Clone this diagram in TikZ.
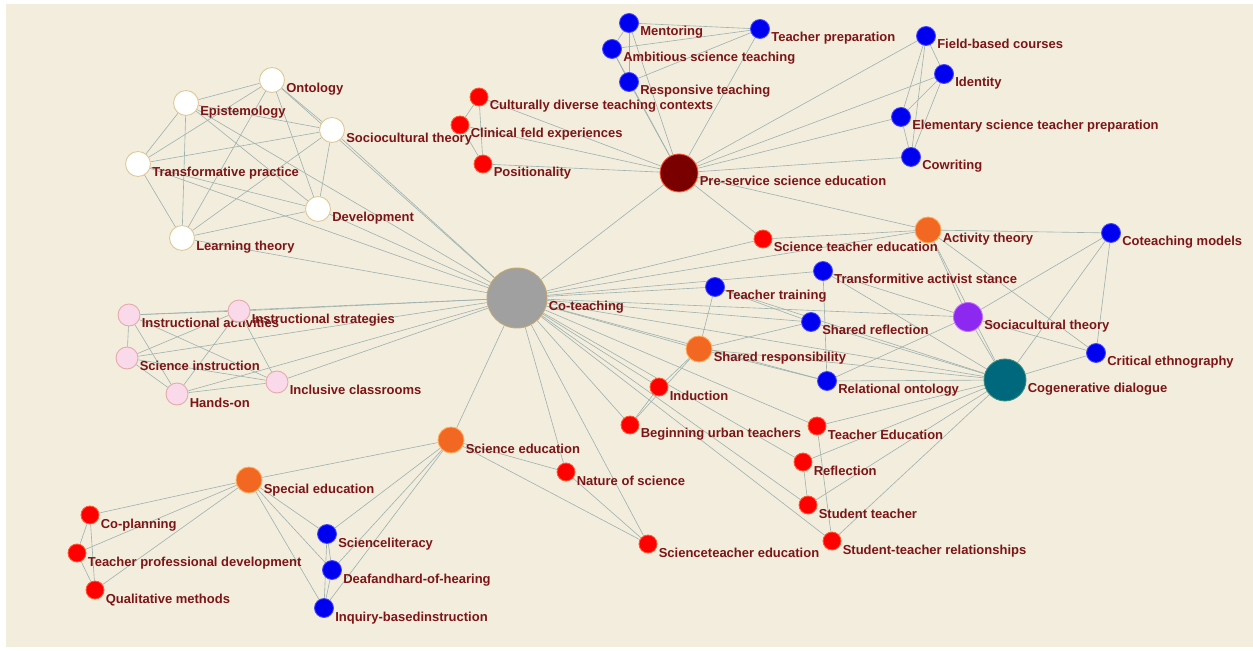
\documentclass[tikz,border=0pt]{standalone}
\usepackage{fontspec}
\setmainfont{Liberation Sans}
\usetikzlibrary{calc}

\pgfdeclarelayer{back}
\pgfdeclarelayer{edges}
\pgfdeclarelayer{labels}
\pgfsetlayers{back,edges,labels,main}

\definecolor{paper}{RGB}{243,237,221}
\definecolor{edgec}{RGB}{158,178,175}
\definecolor{txt}{RGB}{124,22,22}
\definecolor{wrim}{RGB}{222,200,150}
\definecolor{pinkf}{RGB}{250,218,234}
\definecolor{pinkr}{RGB}{226,170,170}
\definecolor{redf}{RGB}{255,0,0}
\definecolor{redr}{RGB}{255,90,50}
\definecolor{bluef}{RGB}{0,0,240}
\definecolor{bluer}{RGB}{70,70,255}
\definecolor{orf}{RGB}{242,104,34}
\definecolor{orr}{RGB}{255,170,90}
\definecolor{greyf}{RGB}{160,160,160}
\definecolor{greyr}{RGB}{196,168,112}
\definecolor{maroonf}{RGB}{122,0,0}
\definecolor{tealf}{RGB}{0,104,124}
\definecolor{tealr}{RGB}{60,140,128}
\definecolor{purplef}{RGB}{140,40,240}
\definecolor{purpler}{RGB}{200,110,255}

\begin{document}
\begin{tikzpicture}[
x=0.02cm, y=-0.02cm,
vtx/.style={circle, inner sep=0pt, line width=.5pt},
wnode/.style={vtx, fill=white, draw=wrim, minimum size=.5cm},
pnode/.style={vtx, fill=pinkf, draw=pinkr, minimum size=.44cm},
rnode/.style={vtx, fill=redf, draw=redr, minimum size=.36cm},
bnode/.style={vtx, fill=bluef, draw=bluer, minimum size=.38cm},
onode/.style={vtx, fill=orf, draw=orr, minimum size=.52cm},
lbl/.style={font=\bfseries\fontsize{7.4}{8}\selectfont, text=txt, inner sep=0pt, anchor=base west},
link/.style={draw=edgec, line width=.35pt}
]

%% Paper
\useasboundingbox (0,0) rectangle (1253,651);
\begin{pgfonlayer}{back}
\fill[white] (0,0) rectangle (1253,651);
\fill[paper] (6,4) rectangle (1253,647);
\end{pgfonlayer}

%% Hubs
\node[vtx, fill=greyf, draw=greyr, minimum size=1.2cm] (co) at (517,298) {};
\node[vtx, fill=maroonf, draw=redr, minimum size=.76cm] (ps) at (679,173) {};
\node[vtx, fill=tealf, draw=tealr, minimum size=.84cm] (cg) at (1005,380) {};
\node[vtx, fill=purplef, draw=purpler, minimum size=.58cm] (soc) at (968,317) {};
\begin{pgfonlayer}{labels}
\node[lbl] (co-l) at ([shift={(1,13)}]co.east) {Co-teaching};
\node[lbl] (ps-l) at ([shift={(1,13)}]ps.east) {Pre-service science education};
\node[lbl] (cg-l) at ([shift={(1,13)}]cg.east) {Cogenerative dialogue};
\node[lbl] (soc-l) at ([shift={(1,13)}]soc.east) {Sociacultural theory};
\end{pgfonlayer}

% % White
\foreach \n/\x/\y/\t in {ont/272/80/Ontology, epi/186/103/Epistemology,
  scth/332/130/Sociocultural theory, trp/138/164/Transformative practice,
  dev/318/209/Development, lth/182/238/Learning theory}{
\node[wnode] (\n) at (\x,\y) {};
\begin{pgfonlayer}{labels}
\node[lbl] (\n-l) at ([shift={(1,13)}]\n.east) {\t};
\end{pgfonlayer}
}

% % Pink
\foreach \n/\x/\y/\t in {iact/129/315/Instructional activities, istr/239/311/Instructional strategies,
  sins/127/358/Science instruction, hon/177/394/Hands-on, icl/277/382/Inclusive classrooms}{
\node[pnode] (\n) at (\x,\y) {};
\begin{pgfonlayer}{labels}
\node[lbl] (\n-l) at ([shift={(1,13)}]\n.east) {\t};
\end{pgfonlayer}
}

% % Orange
\foreach \n/\x/\y/\t in {at/928/230/Activity theory, shr/699/349/Shared responsibility,
  sced/451/440/Science education, sped/249/480/Special education}{
\node[onode] (\n) at (\x,\y) {};
\begin{pgfonlayer}{labels}
\node[lbl] (\n-l) at ([shift={(1,13)}]\n.east) {\t};
\end{pgfonlayer}
}

% % Red
\foreach \n/\x/\y/\t in {cdt/479/97/Culturally diverse teaching contexts, cfe/460/125/Clinical feld experiences,
  pos/483/164/Positionality, ste/763/239/Science teacher education, ind/659/387/Induction,
  but/630/425/Beginning urban teachers, nos/566/472/Nature of science, sted/648/544/Scienceteacher education,
  ted/817/426/Teacher Education, refl/803/462/Reflection, stt/808/505/Student teacher,
  str/832/541/Student-teacher relationships, cpl/90/515/Co-planning,
  tpd/77/553/Teacher professional development, qm/95/590/Qualitative methods}{
\node[rnode] (\n) at (\x,\y) {};
\begin{pgfonlayer}{labels}
\node[lbl] (\n-l) at ([shift={(1,13)}]\n.east) {\t};
\end{pgfonlayer}
}

% % Blue
\foreach \n/\x/\y/\t in {men/629/23/Mentoring, tpr/760/29/Teacher preparation,
  ast/612/49/Ambitious science teaching, rte/629/82/Responsive teaching,
  fbc/926/36/Field-based courses, ide/944/74/Identity,
  estp/901/117/Elementary science teacher preparation, cow/911/157/Cowriting,
  ttr/715/287/Teacher training, tas/823/271/Transformitive activist stance,
  shref/811/322/Shared reflection, rel/827/381/Relational ontology,
  ctm/1111/233/Coteaching models, cet/1096/353/Critical ethnography,
  slit/327/534/Scienceliteracy, dhh/332/570/Deafandhard-of-hearing, ibi/324/608/Inquiry-basedinstruction}{
\node[bnode] (\n) at (\x,\y) {};
\begin{pgfonlayer}{labels}
\node[lbl] (\n-l) at ([shift={(1,13)}]\n.east) {\t};
\end{pgfonlayer}
}

%% Links
\begin{pgfonlayer}{edges}
\foreach \a/\b in {ont/epi, ont/scth, ont/trp, ont/dev, ont/lth, epi/scth, epi/trp, epi/dev, epi/lth,
  scth/trp, scth/dev, scth/lth, trp/dev, trp/lth, dev/lth,
  co/ont, co/epi, co/scth, co/trp, co/dev, co/lth,
  iact/istr, iact/sins, iact/hon, iact/icl, istr/sins, istr/hon, istr/icl, sins/hon, sins/icl, hon/icl,
  co/iact, co/istr, co/sins, co/hon, co/icl,
  co/ps, co/ste, co/at, co/tas, co/ttr, co/shref, co/soc, co/cg, co/rel, co/shr, co/ind, co/but,
  co/ted, co/refl, co/stt, co/str, co/nos, co/sted, co/sced,
  ps/cdt, ps/cfe, ps/pos, ps/men, ps/tpr, ps/ast, ps/rte, ps/fbc, ps/ide, ps/estp, ps/cow, ps/ste, ps/at,
  cdt/cfe, cdt/pos, cfe/pos,
  men/tpr, men/ast, men/rte, ast/tpr, rte/tpr, ast/rte,
  fbc/ide, fbc/estp, fbc/cow, ide/estp, ide/cow, estp/cow,
  at/ste, at/ctm, at/soc, at/cg, at/cet, ctm/soc, ctm/cg, ctm/cet, cet/cg, cet/soc,
  soc/cg, soc/rel, soc/tas,
  cg/ttr, cg/tas, cg/shref, cg/rel, cg/shr, cg/ted, cg/refl, cg/stt, cg/str,
  shr/ttr, shr/shref, shr/ind, shr/but, shr/rel, ind/but, ttr/shref, tas/rel, ted/str, refl/stt,
  sced/sped, sced/nos, sced/sted, sced/slit, sced/dhh, sced/ibi, nos/sted,
  sped/slit, sped/dhh, sped/ibi, sped/cpl, sped/tpd, sped/qm, cpl/tpd, cpl/qm, tpd/qm,
  slit/dhh, slit/ibi, dhh/ibi}{
\draw[link] (\a) -- (\b);
}
\end{pgfonlayer}

\end{tikzpicture}
\end{document}
